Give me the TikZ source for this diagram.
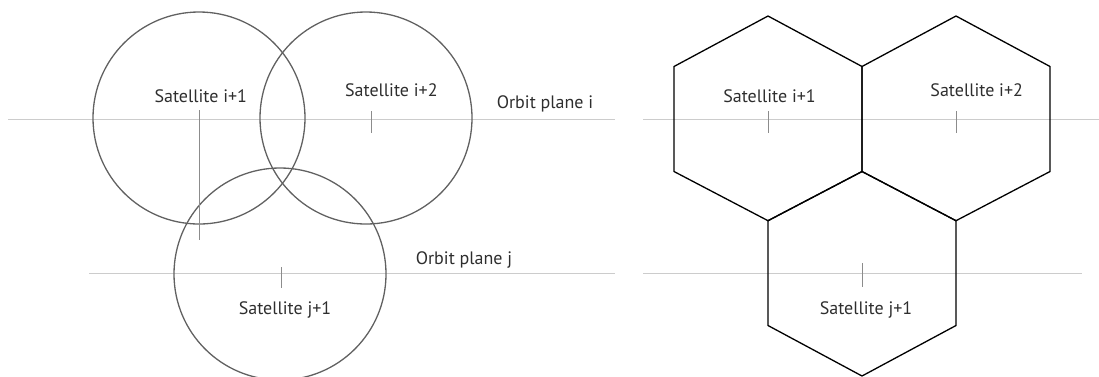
\documentclass[tikz,border=0pt]{standalone}
\usepackage{fontspec}
\setmainfont{PT Sans}
\begin{document}
\begin{tikzpicture}[x=1pt,y=-1pt,
  orbit/.style={draw=black!20, line width=1pt},
  tick/.style={draw=black!45, line width=0.9pt},
  cov/.style={circle, draw=black!62, line width=1.3pt, minimum size=212pt, inner sep=0pt},
  cell/.style={draw=black, line width=1.3pt, line join=miter},
  lbl/.style={text=black!82, inner sep=0pt, anchor=base, font=\fontsize{18}{20}\selectfont}]
\useasboundingbox (0,0) rectangle (1099,376);
% orbit lines
\draw[orbit] (8,119) -- (615,119);
\draw[orbit] (643,119) -- (1099,119);
\draw[orbit] (89,273.5) -- (615,273.5);
\draw[orbit] (643,273.5) -- (1082,273.5);
% left panel: circular footprints
\node[cov] (c1) at (199,118) {};
\node[cov] (c2) at (366,118) {};
\node[cov] (c3) at (280,274) {};
\draw[tick] (199,110) -- (199,240);
\draw[tick] (371,111) -- (371,133);
\draw[tick] (281,267) -- (281,288);
\node[lbl] (l1) at (200.8,102.5) {Satellite i+1};
\node[lbl] (l2) at (391.4,96.5) {Satellite i+2};
\node[lbl] (l3) at (285,314) {Satellite j+1};
\node[lbl] (op1) at (545,108.3) {Orbit plane i};
\node[lbl] (op2) at (464,264) {Orbit plane j};
% right panel: hexagonal cells
\draw[cell] (768,16) -- (862,66.5) -- (862,171.5) -- (768,220.7) -- (674,171.5) -- (674,66.5) -- cycle;
\draw[cell] (956,16) -- (1050,66.5) -- (1050,171.5) -- (956,220.7) -- (862,171.5) -- (862,66.5) -- cycle;
\draw[cell] (862,171.5) -- (956,220.7) -- (956,325.5) -- (862,376) -- (768,325.5) -- (768,220.7) -- cycle;
\draw[tick] (768,111) -- (768,133);
\draw[tick] (956.5,111) -- (956.5,133);
\draw[tick] (862,263) -- (862,287);
\node[lbl] (h1) at (769.5,102) {Satellite i+1};
\node[lbl] (h2) at (976.7,96.5) {Satellite i+2};
\node[lbl] (h3) at (866,314) {Satellite j+1};
\end{tikzpicture}
\end{document}
